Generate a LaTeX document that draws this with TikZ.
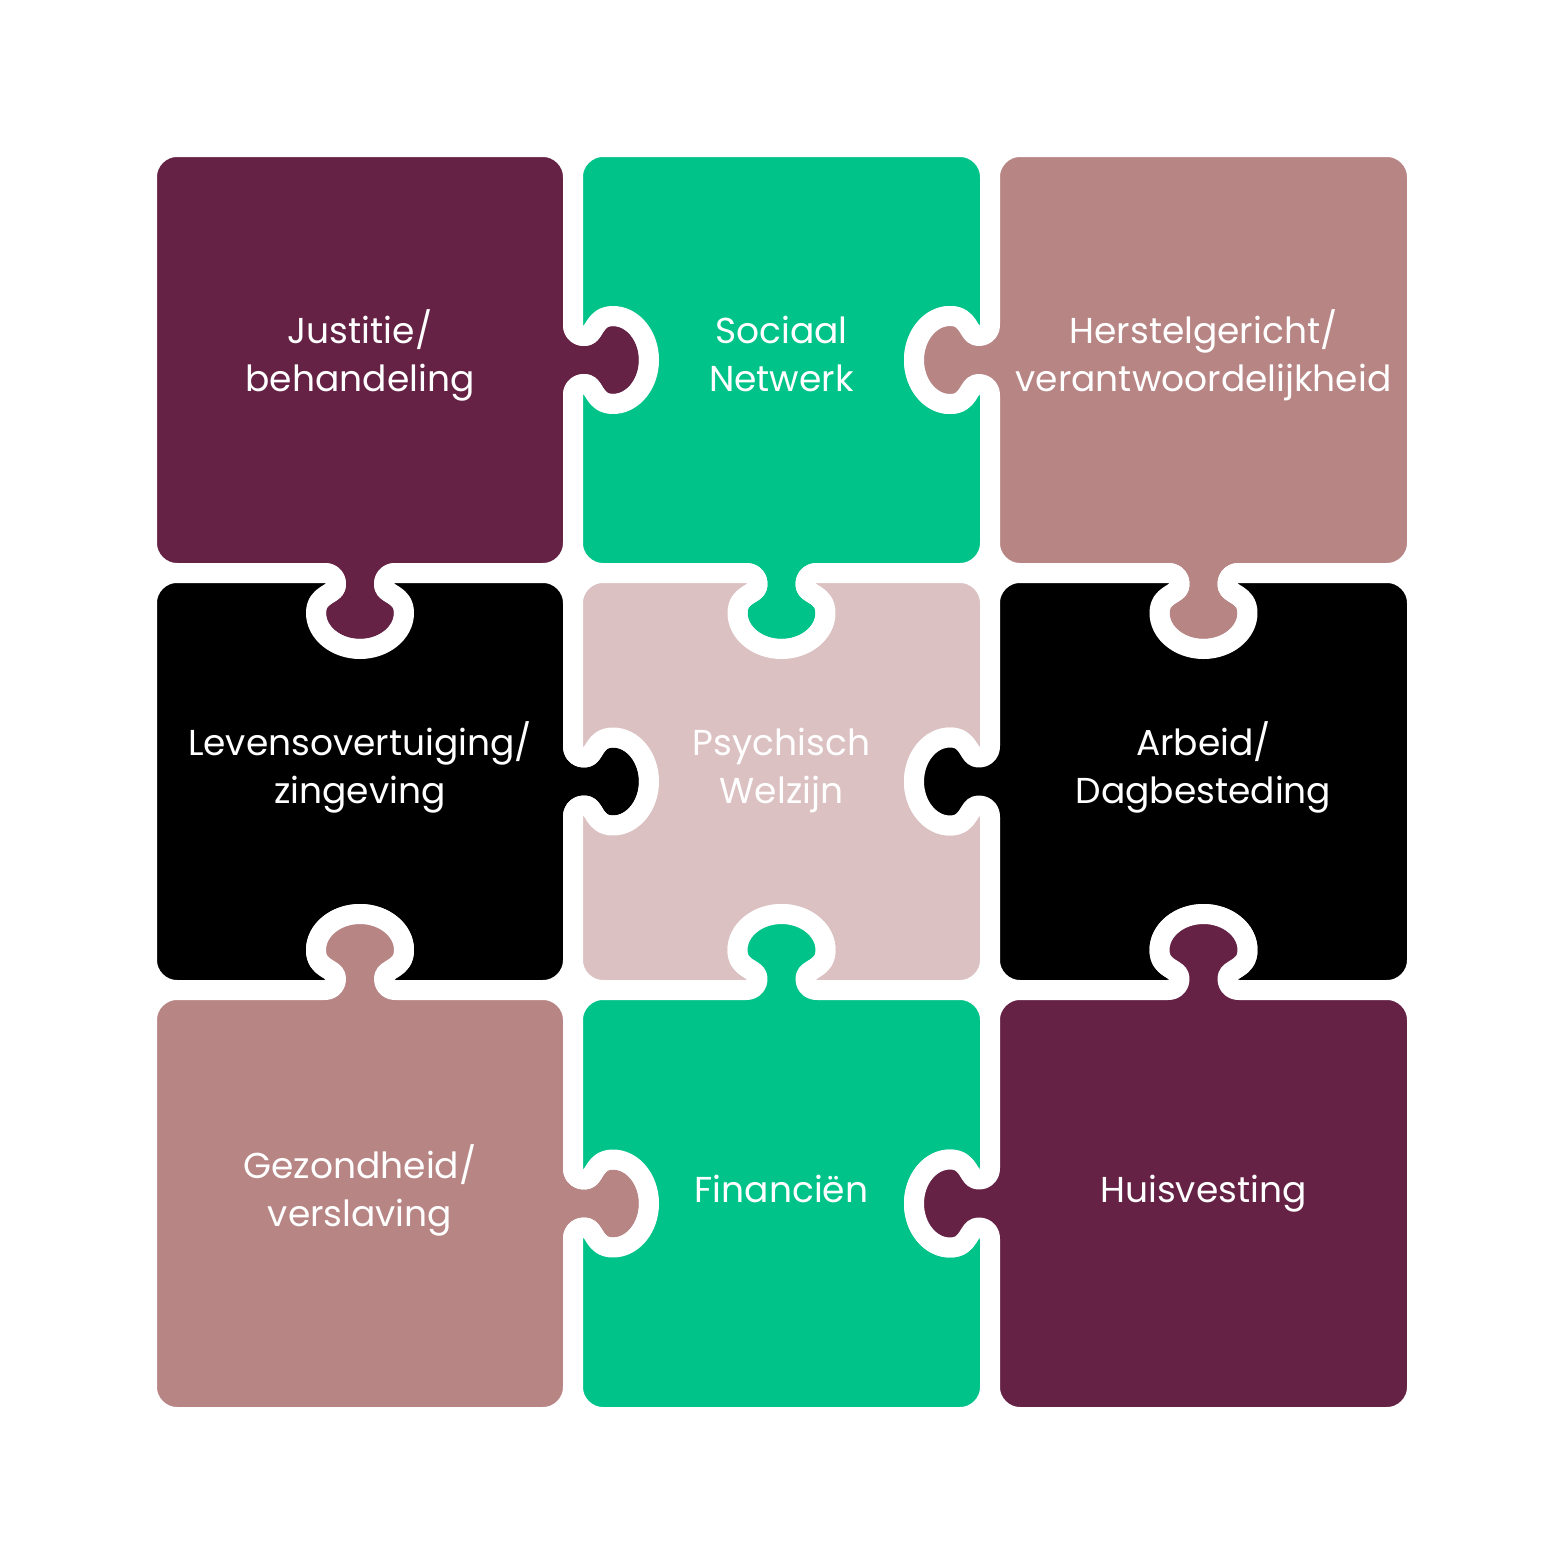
\documentclass[tikz,border=0pt]{standalone}
\usepackage{fontspec}
\setmainfont{Poppins}
\definecolor{cPurple}{HTML}{652245}
\definecolor{cGreen}{HTML}{00C389}
\definecolor{cRose}{HTML}{B88585}
\definecolor{cPink}{HTML}{DCC1C2}
\definecolor{cBlack}{HTML}{000000}
\newcommand\setP[2]{\pgfmathsetmacro\px{\tcx+(#1)*(\tnx)+(#2)*(\ttx)}\pgfmathsetmacro\py{\tcy+(#1)*(\tny)+(#2)*(\tty)}}
\newcommand\app[1]{\xdef\pp{\pp#1}}
\newcommand\cseg[6]{\setP{#1}{#2}\edef\ax{\px}\edef\ay{\py}\setP{#3}{#4}\edef\bx{\px}\edef\by{\py}\setP{#5}{#6}\app{ .. controls (\ax,\ay) and (\bx,\by) .. (\px,\py)}}
\newcommand\addtab[6]{%
 \def\tcx{#1}\def\tcy{#2}\def\tnx{#3}\def\tny{#4}\def\ttx{#5}\def\tty{#6}%
 \setP{0}{-36}\app{ -- (\px,\py)}%
 \cseg{0}{-28}{4}{-24}{12}{-24}%
 \cseg{22}{-24}{20}{-44}{40}{-44}%
 \cseg{60}{-44}{76}{-24}{76}{0}%
 \cseg{76}{24}{60}{44}{40}{44}%
 \cseg{20}{44}{22}{24}{12}{24}%
 \cseg{4}{24}{0}{28}{0}{36}%
}
% #1 L #2 T #3 R #4 B, #5 top #6 right #7 bottom #8 left (1 knob, -1 hole, 0 none), #9 colour
\newcommand\piece[9]{%
 \pgfmathsetmacro\mx{(#1+#3)/2}\pgfmathsetmacro\my{(#2+#4)/2}%
 \xdef\pp{({#1+30},#2)}%
 \ifnum#5=0 \else\addtab{\mx}{#2}{0}{(-1)*(#5)}{1}{0}\fi
 \app{ -- ({#3-30},#2) .. controls ({#3-13.43},#2) and (#3,{#2+13.43}) .. (#3,{#2+30})}%
 \ifnum#6=0 \else\addtab{#3}{\my}{#6}{0}{0}{1}\fi
 \app{ -- (#3,{#4-30}) .. controls (#3,{#4-13.43}) and ({#3-13.43},#4) .. ({#3-30},#4)}%
 \ifnum#7=0 \else\addtab{\mx}{#4}{0}{#7}{-1}{0}\fi
 \app{ -- ({#1+30},#4) .. controls ({#1+13.43},#4) and (#1,{#4-13.43}) .. (#1,{#4-30})}%
 \ifnum#8=0 \else\addtab{#1}{\my}{(-1)*(#8)}{0}{0}{-1}\fi
 \app{ -- (#1,{#2+30}) .. controls (#1,{#2+13.43}) and ({#1+13.43},#2) .. ({#1+30},#2) -- cycle}%
 \path[piece, fill=#9] \pp;%
}
\tikzset{
 piece/.style={draw=white, line width=10pt, line join=round},
 lbl/.style={text=white, align=center, anchor=base, inner sep=0pt,
   font=\fontsize{18}{23.75}\selectfont}
}
\begin{document}
\begin{tikzpicture}[x=0.5pt,y=-0.5pt]
\useasboundingbox (0,0) rectangle (1563,1563);
\fill[white] (0,0) rectangle (1563,1563);
% row 1
\piece{147}{147}{573}{573}{0}{1}{1}{0}{cPurple}
\piece{573}{147}{990}{573}{0}{-1}{1}{-1}{cGreen}
\piece{990}{147}{1417}{573}{0}{0}{1}{1}{cRose}
% row 2
\piece{147}{573}{573}{990}{-1}{1}{-1}{0}{cBlack}
\piece{573}{573}{990}{990}{-1}{-1}{-1}{-1}{cPink}
\piece{990}{573}{1417}{990}{-1}{0}{-1}{1}{cBlack}
% row 3
\piece{147}{990}{573}{1417}{1}{1}{0}{0}{cRose}
\piece{573}{990}{990}{1417}{1}{-1}{0}{-1}{cGreen}
\piece{990}{990}{1417}{1417}{1}{0}{0}{1}{cPurple}
% labels (anchor = baseline of the last line)
\node[lbl] (justitie) at (360,391) {Justitie/\\behandeling};
\node[lbl] (sociaal) at (781.5,391) {Sociaal\\Netwerk};
\node[lbl] (herstel) at (1203.5,391) {Herstelgericht/\\verantwoordelijkheid};
\node[lbl] (levens) at (360,803) {Levensovertuiging/\\zingeving};
\node[lbl] (psychisch) at (781.5,803) {Psychisch\\Welzijn};
\node[lbl] (arbeid) at (1203.5,803) {Arbeid/\\Dagbesteding};
\node[lbl] (gezondheid) at (360,1226) {Gezondheid/\\verslaving};
\node[lbl] (financien) at (781.5,1202) {Financiën};
\node[lbl] (huisvesting) at (1203.5,1202) {Huisvesting};
\end{tikzpicture}
\end{document}
